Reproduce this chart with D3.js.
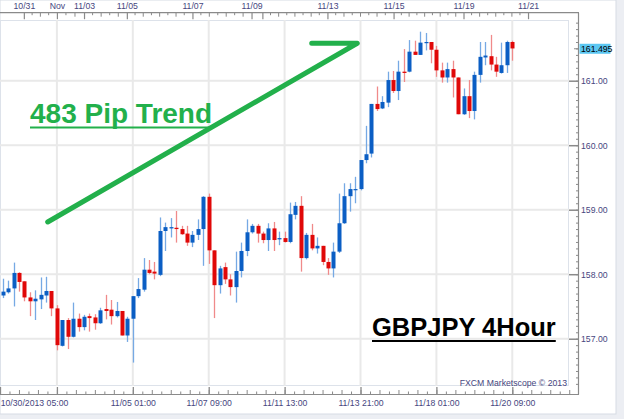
<!DOCTYPE html>
<html><head><meta charset="utf-8">
<script src="https://cdn.jsdelivr.net/npm/d3@7/dist/d3.min.js"></script>
<style>
html,body{margin:0;padding:0;background:#eceef3;}
svg{display:block;}
</style></head><body>
<svg id="c" width="624" height="419"></svg>
<script>
// ---- data (4-hour candles, index 0 = 10/30/2013 05:00) ----
const opens  = [157.67,157.72,157.78,158.02,157.89,157.64,157.58,157.61,157.67,157.74,
                157.47,156.89,157.29,157.03,157.31,157.18,157.35,157.33,157.24,157.46,
                157.45,157.35,157.43,157.05,157.31,157.66,157.76,158.07,158.04,157.99,
                158.67,158.71,158.72,158.70,158.63,158.49,158.61,158.70,159.20,158.37,
                157.83,158.11,157.92,157.80,158.05,158.36,158.65,158.75,158.63,158.53,
                158.71,158.54,158.56,158.50,158.92,159.06,158.25,158.61,158.40,158.44,
                158.19,158.09,158.35,158.79,159.21,159.31,159.32,159.77,159.87,160.64,
                160.57,160.66,161.01,160.84,161.14,161.14,161.45,161.40,161.59,161.60,
                161.48,161.16,161.05,161.18,161.05,160.48,160.76,160.53,161.09,161.36,
                161.38,161.25,161.12,161.24,161.60];
const highs  = [157.93,157.90,158.18,158.03,157.89,157.72,157.75,157.95,157.96,157.74,
                157.52,157.29,157.32,157.56,157.39,157.37,157.39,157.38,157.48,157.68,
                157.60,157.57,157.43,157.34,157.66,157.94,158.25,158.22,158.19,158.88,
                158.80,158.87,158.98,158.75,158.75,158.67,158.85,159.21,159.25,158.37,
                158.13,158.18,158.00,158.35,158.49,158.85,158.78,158.78,158.66,158.79,
                158.81,158.66,158.66,159.11,159.12,159.21,158.64,158.78,158.57,158.44,
                158.25,158.49,159.25,159.41,159.41,159.51,159.77,160.30,160.64,160.91,
                160.76,161.14,161.15,161.31,161.49,161.63,161.62,161.76,161.74,161.60,
                161.54,161.28,161.28,161.31,161.05,160.88,161.01,161.14,161.60,161.60,
                161.71,161.37,161.59,161.62,161.62];
const lows   = [157.63,157.70,157.50,157.73,157.58,157.35,157.29,157.46,157.56,157.35,
                156.82,156.88,156.84,157.02,157.11,157.13,157.11,157.14,157.23,157.30,
                157.22,157.33,157.05,156.95,156.63,157.63,157.73,158.00,157.92,157.97,
                158.36,158.57,158.49,158.61,158.44,158.42,158.53,158.13,158.16,157.32,
                157.70,157.85,157.67,157.56,157.95,158.28,158.63,158.49,158.48,158.36,
                158.36,158.45,158.49,158.48,158.85,158.04,158.23,158.37,158.32,158.14,
                157.99,157.95,158.33,158.78,158.97,159.10,159.30,159.72,159.81,160.53,
                160.56,160.59,160.81,160.70,160.98,161.13,161.40,161.40,161.47,161.27,
                161.06,160.97,160.97,160.74,160.48,160.47,160.42,160.40,160.97,161.24,
                161.16,161.06,161.11,161.12,161.31];
const closes = [157.73,157.78,158.02,157.88,157.64,157.58,157.62,157.68,157.74,157.47,
                156.90,157.29,157.03,157.31,157.18,157.34,157.32,157.24,157.44,157.43,
                157.35,157.43,157.05,157.31,157.66,157.77,158.07,158.02,158.01,158.67,
                158.73,158.73,158.70,158.62,158.49,158.61,158.70,159.20,158.37,157.83,
                158.09,157.92,157.80,158.05,158.36,158.65,158.75,158.63,158.53,158.71,
                158.53,158.56,158.50,158.93,159.06,158.25,158.61,158.40,158.44,158.19,
                158.09,158.35,158.79,159.21,159.32,159.32,159.77,159.86,160.64,160.56,
                160.67,161.01,160.84,161.14,161.12,161.45,161.40,161.59,161.60,161.48,
                161.16,161.05,161.18,161.05,160.48,160.76,160.53,161.09,161.37,161.39,
                161.25,161.14,161.24,161.60,161.50];
const candleIdx = d3.range(opens.length);

// axis labels
const priceTicks = [157, 158, 159, 160, 161];
const lastPrice = 161.495;
const gridIdx = [10, 24, 38, 52, 66, 80, 94];
const bottomTickIdx = [24, 38, 52, 66, 80, 94];
const bottomTickLabels = ["11/05 01:00", "11/07 09:00", "11/11 13:00", "11/13 21:00", "11/18 01:00", "11/20 09:00"];
const firstLabel = "10/30/2013 05:00";
const topTickIdx = [3.9, 10, 15, 22.9, 35, 45.9, 47.9, 59.9, 72.1, 85, 96.9];
const topTickLabels = ["10/31", "Nov", "11/03", "11/05", "11/07", "11/09", "", "11/13", "11/15", "11/19", "11/21"];
// annotation trend line (candle index, price)
const trendIdx = [8.3, 65.4, 57.0];
const trendPrice = [158.81, 161.58, 161.58];

// ---- layout ----
const svg = d3.select("#c");
const plotL = 0, plotR = 569, plotT = 20, plotB = 386;
const axisX = 578, bottomAxisY = 394, topAxisY = 12.7;
const x = d3.scaleLinear().domain([0, 94]).range([2.7, 512.3]);
const y = d3.scaleLinear().domain([156.267, 161.941]).range([plotB, plotT]);
const labelColor = "#46467e";
const font = "'Liberation Sans', Arial, sans-serif";

// panel
svg.append("rect").attr("x", 0).attr("y", 0).attr("width", 616).attr("height", 414)
  .attr("fill", "#fff").attr("stroke", "#d6dbe4").attr("stroke-width", 1);

// plot frame
svg.append("rect").attr("x", plotL + 0.5).attr("y", plotT + 0.5).attr("width", plotR - plotL - 1).attr("height", plotB - plotT - 1)
  .attr("fill", "none").attr("stroke", "#dde2ea").attr("stroke-width", 1);

// grid
const grid = svg.append("g");
grid.selectAll(".hg").data(priceTicks).join("line")
  .attr("x1", plotL).attr("x2", plotR)
  .attr("y1", d => y(d)).attr("y2", d => y(d))
  .attr("stroke", "#e9e9e9").attr("stroke-width", 2);
grid.selectAll(".vg").data(gridIdx).join("line")
  .attr("x1", d => x(d)).attr("x2", d => x(d))
  .attr("y1", plotT).attr("y2", plotB)
  .attr("stroke", "#e9e9e9").attr("stroke-width", 2);

// candles
const up = i => closes[i] >= opens[i];
const cg = svg.append("g");
cg.selectAll(".wick").data(candleIdx).join("line")
  .attr("x1", i => Math.round(x(i)) + 0.5).attr("x2", i => Math.round(x(i)) + 0.5)
  .attr("y1", i => y(highs[i])).attr("y2", i => y(lows[i]))
  .attr("stroke", i => up(i) ? "#76a9e4" : "#f08a8a").attr("stroke-width", 1.3);
cg.selectAll(".body").data(candleIdx).join("rect")
  .attr("x", i => Math.round(x(i)) - 1.5)
  .attr("width", 4)
  .attr("y", i => y(Math.max(opens[i], closes[i])))
  .attr("height", i => Math.max(1.2, Math.abs(y(opens[i]) - y(closes[i]))))
  .attr("fill", i => up(i) ? "#0b5ec4" : "#e00808");

// trend annotation
const trendPts = trendIdx.map((d, k) => [x(d), y(trendPrice[k])]);
svg.append("path").attr("d", d3.line()(trendPts))
  .attr("fill", "none").attr("stroke", "#22b04b").attr("stroke-width", 5)
  .attr("stroke-linecap", "round").attr("stroke-linejoin", "round");

// right axis
const ra = svg.append("g").attr("transform", `translate(${axisX},0)`);
ra.append("line").attr("x1", 0.5).attr("x2", 0.5).attr("y1", topAxisY).attr("y2", bottomAxisY + 0.5)
  .attr("stroke", "#8a8a8a").attr("stroke-width", 1.2);
const minorP = d3.range(1563, 1620).map(d => d / 10);
ra.append("g").call(d3.axisRight(y).tickValues(minorP).tickSizeInner(-3).tickSizeOuter(0).tickFormat(""))
  .call(g => g.select(".domain").remove())
  .call(g => g.selectAll("line").attr("stroke", "#8a8a8a").attr("transform", "translate(1,0)"));
ra.append("g").call(d3.axisRight(y).tickValues(priceTicks).tickSizeInner(-9).tickSizeOuter(0).tickPadding(3).tickFormat(d3.format(".2f")))
  .call(g => g.select(".domain").remove())
  .call(g => g.selectAll("line").attr("stroke", "#8a8a8a").attr("stroke-width", 1.5))
  .call(g => g.selectAll("text").attr("fill", labelColor).attr("font-family", font).attr("font-size", 8.7));
// last price badge
const lp = ra.append("g").attr("transform", `translate(0,${y(lastPrice)})`);
lp.append("rect").attr("x", 1.5).attr("y", -5).attr("width", 31).attr("height", 10).attr("fill", "#5cc7f2");
lp.append("line").attr("x1", -4).attr("x2", 0).attr("stroke", "#8a8a8a");
lp.append("text").attr("x", 3).attr("y", 3.3).attr("font-family", font).attr("font-size", 8.7)
  .attr("fill", "#000").text(d3.format(".3f")(lastPrice));

// bottom axis
const ba = svg.append("g").attr("transform", `translate(0,${bottomAxisY})`);
ba.append("line").attr("x1", 0).attr("x2", axisX + 1).attr("y1", 0.5).attr("y2", 0.5)
  .attr("stroke", "#8a8a8a").attr("stroke-width", 1.2);
const minorB = d3.range(-5.75, 109, 1.75).filter(d => x(d) >= 0 && x(d) <= axisX);
ba.append("g").call(d3.axisBottom(x).tickValues(minorB).tickSizeInner(-3).tickSizeOuter(0).tickFormat(""))
  .call(g => g.select(".domain").remove())
  .call(g => g.selectAll("line").attr("stroke", "#8a8a8a")
     .attr("y2", (d, k) => (Math.round((d - 10) / 1.75) % 2 === 0) ? -4 : -2.5));
ba.append("g").call(d3.axisBottom(x).tickValues(gridIdx.concat([-0.5])).tickSizeInner(-7).tickSizeOuter(0).tickFormat(""))
  .call(g => g.select(".domain").remove())
  .call(g => g.selectAll("line").attr("stroke", "#8a8a8a").attr("stroke-width", 1.3));
ba.append("g").call(d3.axisBottom(x).tickValues(bottomTickIdx).tickSize(0).tickPadding(5.5)
    .tickFormat((d, k) => bottomTickLabels[k]))
  .call(g => g.select(".domain").remove())
  .call(g => g.selectAll("text").attr("fill", labelColor).attr("font-family", font).attr("font-size", 8.7));
ba.append("text").attr("x", x(0) - 2).attr("y", 12).attr("font-family", font).attr("font-size", 8.7)
  .attr("fill", labelColor).text(firstLabel);

// top axis
const ta = svg.append("g").attr("transform", `translate(0,${topAxisY})`);
ta.append("line").attr("x1", 0).attr("x2", axisX + 1).attr("y1", 0).attr("y2", 0)
  .attr("stroke", "#8a8a8a").attr("stroke-width", 1.2);
const minorT = [];
for (let k = 0; k < topTickIdx.length - 1; k++) {
  const a = topTickIdx[k], b = topTickIdx[k + 1];
  const n = Math.max(1, Math.round((x(b) - x(a)) / 8));
  for (let j = 1; j < n; j++) minorT.push({v: a + (b - a) * j / n, tall: j % 2 === 0});
}
ta.selectAll(".mt").data(minorT).join("line")
  .attr("x1", d => x(d.v)).attr("x2", d => x(d.v)).attr("y1", 0).attr("y2", d => d.tall ? 4 : 2.5)
  .attr("stroke", "#8a8a8a");
ta.append("g").call(d3.axisTop(x).tickValues(topTickIdx).tickSizeInner(-6.5).tickSizeOuter(0).tickPadding(4)
    .tickFormat((d, k) => topTickLabels[k]))
  .call(g => g.select(".domain").remove())
  .call(g => g.selectAll("line").attr("stroke", "#8a8a8a").attr("stroke-width", 1.2))
  .call(g => g.selectAll("text").attr("fill", labelColor).attr("font-family", font).attr("font-size", 8.7));

// annotations text
function underlined(txt, tx, ty, size, color, uOff) {
  const t = svg.append("text").attr("x", tx).attr("y", ty).attr("font-family", font)
    .attr("font-weight", "bold").attr("font-size", size).attr("fill", color).text(txt);
  const w = t.node().getComputedTextLength();
  svg.append("line").attr("x1", tx).attr("x2", tx + w).attr("y1", ty + uOff).attr("y2", ty + uOff)
    .attr("stroke", color).attr("stroke-width", 2.2);
}
underlined("483 Pip Trend", 30, 123, 28, "#22b04b", 4.5);
underlined("GBPJPY 4Hour", 372, 336, 25.5, "#000", 5);

svg.append("text").attr("x", plotR - 2).attr("y", 386).attr("text-anchor", "end")
  .attr("font-family", font).attr("font-size", 8.7).attr("fill", labelColor)
  .text("FXCM Marketscope © 2013");
</script>
</body></html>
